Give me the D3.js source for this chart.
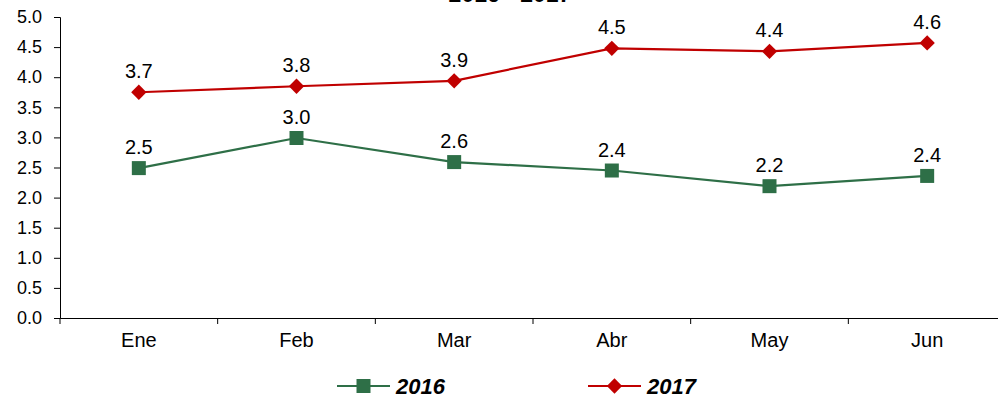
<!DOCTYPE html>
<html>
<head>
<meta charset="utf-8">
<script src="https://cdn.jsdelivr.net/npm/d3@7"></script>
<style>
  body { margin: 0; background: #fff; }
  text { font-family: "Liberation Sans", Arial, sans-serif; }
</style>
</head>
<body>
<div id="chart"></div>
<script>
var months = ['Ene', 'Feb', 'Mar', 'Abr', 'May', 'Jun'];
var values2016 = [2.49, 2.99, 2.59, 2.45, 2.19, 2.36];
var values2017 = [3.75, 3.85, 3.94, 4.48, 4.43, 4.57];
var labels2016 = ['2.5', '3.0', '2.6', '2.4', '2.2', '2.4'];
var labels2017 = ['3.7', '3.8', '3.9', '4.5', '4.4', '4.6'];
var yTicks = [0, 0.5, 1, 1.5, 2, 2.5, 3, 3.5, 4, 4.5, 5];

var width = 998, height = 406;
var margin = { top: 17, left: 60, bottom: 88 };
var plot_right = 1006;
var font = '"Liberation Sans", Arial, sans-serif';

var svg = d3.select('#chart').append('svg')
    .attr('width', width)
    .attr('height', height);

var x = d3.scaleBand().domain(months).range([margin.left, plot_right]);
var y = d3.scaleLinear().domain([0, 5]).range([height - margin.bottom, margin.top]);

// title (cut off at top in the original)
svg.append('text')
    .attr('x', 510).attr('y', 2)
    .attr('text-anchor', 'middle')
    .style('font-size', '23px').style('font-weight', 'bold')
    .text('2016 - 2017');

// y axis
var yAxis = svg.append('g')
    .attr('transform', `translate(${margin.left},0)`)
    .call(d3.axisLeft(y).tickValues(yTicks).tickFormat(d3.format('.1f')).tickSize(6).tickPadding(12));
yAxis.select('.domain').attr('stroke', '#000');
yAxis.selectAll('.tick line').attr('stroke', '#000');
yAxis.selectAll('text').style('font-size', '18px').attr('fill', '#000').style('font-family', font);

// x axis
var xAxis = svg.append('g')
    .attr('transform', `translate(0,${y(0)})`)
    .call(d3.axisBottom(x).tickSize(0).tickPadding(15));
xAxis.select('.domain').attr('stroke', '#000');
xAxis.selectAll('text').style('font-size', '20px').attr('fill', '#000').style('font-family', font);
// category boundary ticks
svg.append('g').selectAll('line')
    .data(months)
    .enter().append('line')
    .attr('x1', function(d) { return x(d); })
    .attr('x2', function(d) { return x(d); })
    .attr('y1', y(0)).attr('y2', y(0) + 6)
    .attr('stroke', '#000');

var cx = function(d, i) { return x(months[i]) + x.bandwidth() / 2; };

var series = [
    { name: '2016', values: values2016, labels: labels2016, color: '#2E6F47', marker: 'square' },
    { name: '2017', values: values2017, labels: labels2017, color: '#C00000', marker: 'diamond' }
];

var line = d3.line().x(cx).y(function(d) { return y(d); });

function markerPath(s) {
    return s.marker === 'square'
        ? d3.symbol().type(d3.symbolSquare).size(196)()
        : d3.symbol().type(d3.symbolDiamond2).size(150)();
}

series.forEach(function(s) {
    svg.append('path')
        .datum(s.values)
        .attr('d', line)
        .attr('fill', 'none')
        .attr('stroke', s.color)
        .attr('stroke-width', 2.2);

    svg.append('g').selectAll('path')
        .data(s.values)
        .enter().append('path')
        .attr('d', markerPath(s))
        .attr('fill', s.color)
        .attr('transform', function(d, i) { return `translate(${cx(d, i)},${y(d)})`; });

    svg.append('g').selectAll('text')
        .data(s.values)
        .enter().append('text')
        .attr('x', cx)
        .attr('y', function(d) { return y(d) - 14; })
        .attr('text-anchor', 'middle')
        .style('font-size', '20px')
        .text(function(d, i) { return s.labels[i]; });
});

// legend
var legend = svg.append('g').attr('transform', 'translate(0,386)');
var legendX = [337, 588];
series.forEach(function(s, i) {
    var g = legend.append('g').attr('transform', `translate(${legendX[i]},0)`);
    g.append('line').attr('x1', 0).attr('x2', 53).attr('y1', 0).attr('y2', 0)
        .attr('stroke', s.color).attr('stroke-width', 2.2);
    g.append('path').attr('d', markerPath(s)).attr('fill', s.color)
        .attr('transform', 'translate(26.5,0)');
    g.append('text').attr('x', 59).attr('y', 8)
        .style('font-size', '22px').style('font-weight', 'bold').style('font-style', 'italic')
        .text(s.name);
});
</script>
</body>
</html>
